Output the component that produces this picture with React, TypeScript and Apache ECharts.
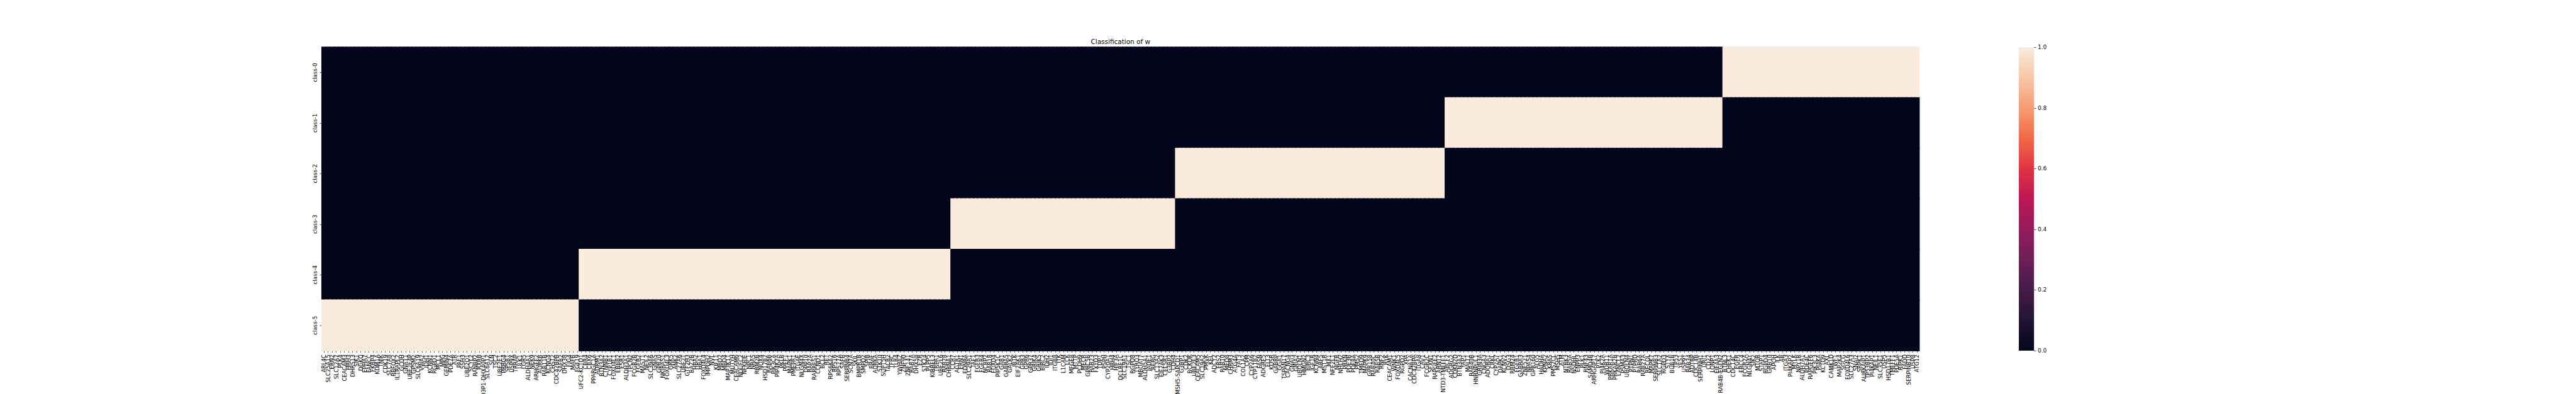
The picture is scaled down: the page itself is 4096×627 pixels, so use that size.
import React, { useEffect, useRef } from "react";
import * as echarts from "echarts";

// ---- data ----
const chartTitle = "Classification of w";
const classNames = ["class-0", "class-1", "class-2", "class-3", "class-4", "class-5"];

const class5Genes = ["ARL4C","SLC25A15","ERN2","SLC12A7","PLK4","CEACAM3","HRH3","DHRS13","SIK1","DGKQ","EPHA7","FANCC","FKBP4","KDM1A","TNIK","CDK19","SLC7A8","RBFOX2","IL1RAPL2","GCDH","GNA11","UBE2E4P","GPSM2","SLC6A19","VWA2","IDH1","KCNN1","RGPD1","MCL1","MPG","GEMIN4","PDE7A","ATR","PAF1","SSH3","UBE2Q1","SCYL2","RANBP2","RXRB","TBC1D3P1-DHX40P1","SLC6A12","SLN","TSC2","UBE2E1","PRRG4","SPSB1","USP9X","TRRAP","ULK1","LGR5","ALDH4A1","NEK9","ARHGEF2","AURKB","RAB11B","KCNG4","CHST2","CDC42BPB","SAFB2","DHX38","FIG4","MAFB","FGF19"];
const class4Genes = ["UFC2-KCTD1","CBR4","CBX6","PPARGC1A","ADRM1","BTN3A2","CTNNB1","CYP1B1","FOXD4L1","ERBB2","ESR1","ALDH3A1","TPCN2","FCGR2B","FGFR2","MAST1","NEIL2","SLC39A6","GNAS","GPR20","NKIRAS1","FOXD4L3","GRK5","ANK2","SLC27A6","UBE2T","GTF2H3","BAZ2B","HBA2","HBA1","FOXD4L4","IMPDH2","NVL","KIF11","MBD2","MBD4","MAP3K11","MUTYH","CEACAM6","NDUFC2","NFKBIE","NPC1","NRAS","RRM2B","NOX4","HSD17B7","RAB6B","PIK3CA","PIP4K2A","PKLR","PPEF1","MAPK1","PMEPA1","ITGAE","NLGN4X","DPP10","RAP2A","RARRES1","CCND1","BCL2","RET","RPS6KA2","RPS16","RPS27A","SAFB","SERPINB4","SCN7A","SKIL","BMPR1B","SMPD2","SPIB","BRAF","AURKA","STK10","SUPT5H","TACR2","TFRC","TLR4","YWHAZ","ZNF90","ZNF141","RAB7A","DHX58","EZR","STK24","PLPP5","KIRREL3","TRPA1","UBE2L6","RAB28","CHRNA1"];
const class3Genes = ["CCR7","AGTR1","ERN1","EDNRA","SLC29A1","TAF1","FGFR3","FGFR4","NCBP2","RAB18","FOXD4","PIP5K1C","GAB1","GABRA5","GALK2","IBTK","EIF2AK1","GPR3","GPR6","GPR37","GRIK4","GRIK5","BIRC2","IDH2","IDI1","ITGB8","ITK","L1CAM","LCK","MFGE8","MTTP","PCDH9","MECR","GPRC5B","RAB23","FXYD3","TDP1","PSPH","CYP20A1","HRH4","HIF3A","DCLRE1C","SLC19A1","TSC1","RGPD8","TYRO3","MBOAT7","ALDH5A1","JADE1","RERG","SLC13A2","EIF2AK3","CELSR1","G3BP2","CDH4"];
const class2Genes = ["MSH5-SAPCD1","G3BP1","CDK2","BCKDK","UBE2E3","CEACAM5","SLC19A2","PMVK","KEL","ADCY2","FRS2","RAB10","MED8","CHRM3","ATG4A","FAT3","COL1A2","CPM","CYP2A6","CYP11B2","FASN","ADGRF5","FLT3","KDSR","GABRP","GGA1","TSPAN17","CACNG4","GNAI3","GRIA2","UBQLN1","HMGN2","BIRC3","IGF1R","KCNN4","ARF5","MST1R","MX1","NFE2L1","NGFR","NHLH2","PRKN","PDE3B","PDE8A","PMS2","TMED9","MAPK9","GPR158","RAB40C","RAB5B","RNF2","RYK","CEACAM1","WNK1","FOXD4L5","RGPD2","XPA","CACNA1A","CDC42BPA","ITGA8","CAV1","FCGR2C","SFXN1","RAPGEF2","ARNT2","NTD3-TMEFF1"];
const class1Genes = ["ABCF2","ADGRG2","CDKN2D","BTN3A3","YAP1","MALT1","RAB40B","HNRNPUL1","GRIN3A","CNGA3","ADORA1","CRKL","CYP2A7","DAPK1","KCNV2","DSG3","RBM24","FGFR1","GABRA3","ZNF521","NPAS4","GPR160","ALG5","HADHA","KPNA2","KRAS","PMS2CL","MSH5","ATM","NTRK3","RAB5A","NSDHL","ENPP3","PLK1","RNF43","SAMD4B","ARHGAP17","PTK2","PI4K2A","WDR11","PRKAR1A","PRKAR2B","LANCL2","PSMA3","UBQLN4","PTPN1","PTPRD","RAB6A","RAB27A","RECQL","MAPK7","SERPINB3","SLC1A2","RGPD3","STYX","BUB1B","TP53","YES1","USP9Y","RAB34","ADTRP","CDC14B","SERPINH1","URI1","CD22","LONP1","EIF4A3","RAB4B-EGLN2"];
const class0Genes = ["BTNL3","CHEK1","CDC14C","EGFR","ERCC4","FCGR2A","NLGN4Y","SIK2","MTOR","STAP1","RGPD4","GRB10","APOH","ILK","AR","ITGA3","PI4KAP2","MYLK","NPY1R","ALDH7A1","PDE4C","RAPGEF6","PIK3C3","PI4KA","KCTD9","AXL","CAMK1D","TWF1","MAP2K4","SGCG","FOXD4L6","SLC27A3","SNAI2","SRPK1","AURKAIP1","TP53BP2","PI4KAP1","NEIL1","SLC35E1","USP5","HSD17B1","TMEFF1","PDE5A","RIPK1","FADD","SERPINB10","USP8","ATG12"];

// genes assigned to each class row (index = class number)
const genesByClass = [class0Genes, class1Genes, class2Genes, class3Genes, class4Genes, class5Genes];
// column order on the x axis
const geneOrder = [...class5Genes, ...class4Genes, ...class3Genes, ...class2Genes, ...class1Genes, ...class0Genes];

const colorbarTicks = [0, 0.2, 0.4, 0.6, 0.8, 1.0];
const rocketStops = [
  [0.0, "#03051A"], [0.1, "#221331"], [0.2, "#451C47"], [0.3, "#6C1F56"],
  [0.4, "#951C5B"], [0.5, "#BD1655"], [0.6, "#E13342"], [0.7, "#F26946"],
  [0.8, "#F69C73"], [0.9, "#F7C6A5"], [1.0, "#FAEBDD"],
];

const S = 4096 / 6533;
const FONT = "DejaVu Sans";

export default function App() {
  const ref = useRef<HTMLDivElement>(null);
  useEffect(() => {
    if (!ref.current) return;
    const chart = echarts.init(ref.current, null, { renderer: "svg" });

    const lowColor = rocketStops[0][1] as string;
    const highColor = rocketStops[rocketStops.length - 1][1] as string;
    const heatData: any[] = [];
    classNames.forEach((_, r) => {
      const set = new Set(genesByClass[r]);
      geneOrder.forEach((g, c) => {
        const v = set.has(g) ? 1 : 0;
        heatData.push({
          value: [c, r, v],
          itemStyle: { borderColor: v ? highColor : lowColor, borderWidth: 1.5 },
        });
      });
    });

    const gLeft = 816.6 * S;
    const gRight = 4867 * S;
    const gTop = 120 * S;
    const gBottom = 890 * S;
    const cbLeft = 5120 * S;
    const cbWidth = 38.5 * S;
    const fs = 13.9 * S;
    const tickLen = 4.9 * S;

    chart.setOption({
      animation: false,
      backgroundColor: "#ffffff",
      graphic: [
        {
          type: "text",
          x: (gLeft + gRight) / 2,
          y: gTop - 8.33 * S - 0.35 * 16.7 * S,
          style: {
            text: chartTitle,
            fontSize: 16.7 * S,
            fontFamily: FONT,
            fill: "#000",
            textAlign: "center",
            textVerticalAlign: "middle",
          },
        },
      ],
      grid: [
        { left: gLeft, top: gTop, width: gRight - gLeft, height: gBottom - gTop, containLabel: false, outerBoundsMode: "none" },
        { left: cbLeft, top: gTop, width: cbWidth, height: gBottom - gTop, containLabel: false, outerBoundsMode: "none" },
      ],
      xAxis: [
        {
          type: "category",
          gridIndex: 0,
          data: geneOrder,
          position: "bottom",
          axisLine: { show: false },
          axisTick: { show: true, alignWithLabel: true, interval: 0, length: tickLen, lineStyle: { color: "#000", width: 0.7 } },
          axisLabel: { interval: 0, rotate: 90, fontSize: fs, fontFamily: FONT, color: "#000", margin: tickLen + 4.9 * S },
          splitLine: { show: false },
        },
        {
          type: "category",
          gridIndex: 1,
          data: [""],
          show: false,
        },
      ],
      yAxis: [
        {
          type: "category",
          gridIndex: 0,
          data: classNames,
          inverse: true,
          axisLine: { show: false },
          axisTick: { show: true, alignWithLabel: true, length: tickLen, lineStyle: { color: "#000", width: 0.7 } },
          axisLabel: { rotate: 90, fontSize: fs, fontFamily: FONT, color: "#000", margin: tickLen + 4.9 * S },
          splitLine: { show: false },
        },
        {
          type: "value",
          gridIndex: 1,
          position: "right",
          min: 0,
          max: 1,
          interval: 0.2,
          axisLine: { show: false },
          axisTick: { show: true, length: tickLen, lineStyle: { color: "#000", width: 0.7 } },
          axisLabel: {
            fontSize: fs,
            fontFamily: FONT,
            color: "#000",
            margin: tickLen + 4.9 * S,
            formatter: (v: number) => v.toFixed(1),
          },
          splitLine: { show: false },
        },
      ],
      visualMap: {
        show: false,
        type: "continuous",
        min: 0,
        max: 1,
        seriesIndex: 0,
        inRange: { color: rocketStops.map((s) => s[1]) },
      },
      series: [
        {
          type: "heatmap",
          xAxisIndex: 0,
          yAxisIndex: 0,
          data: heatData,
          emphasis: { disabled: true },
        },
        {
          type: "bar",
          xAxisIndex: 1,
          yAxisIndex: 1,
          data: [colorbarTicks[colorbarTicks.length - 1]],
          barWidth: "100%",
          itemStyle: {
            color: new echarts.graphic.LinearGradient(
              0, 1, 0, 0,
              rocketStops.map((s) => ({ offset: s[0] as number, color: s[1] as string }))
            ),
          },
        },
      ],
    });
    return () => chart.dispose();
  }, []);
  return (
    <div
      ref={ref}
      style={{ position: "absolute", left: 0, top: 0, width: 4096, height: 627 }}
    />
  );
}
